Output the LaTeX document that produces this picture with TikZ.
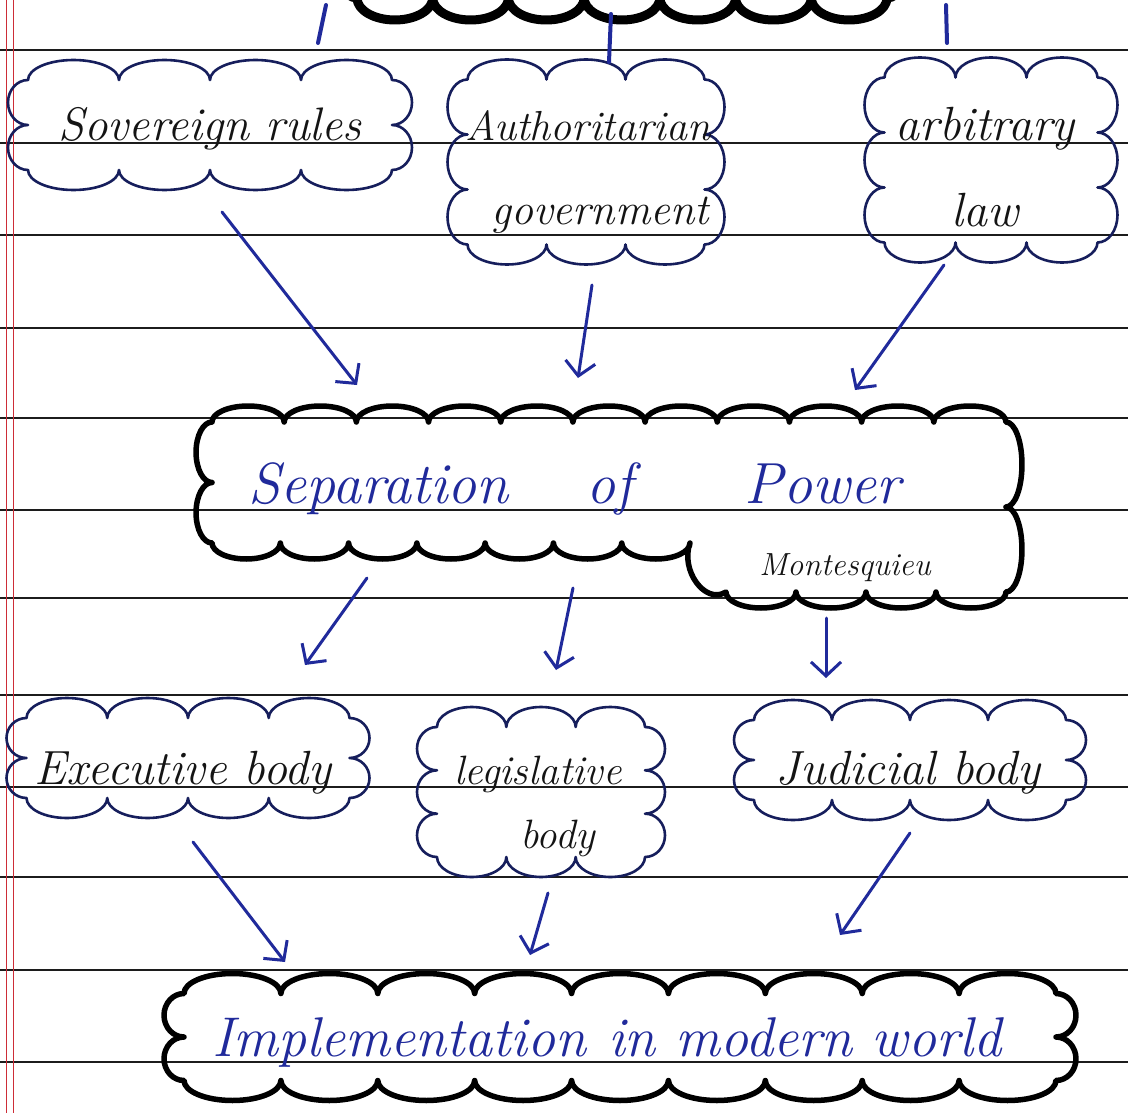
\documentclass[tikz,border=0pt]{standalone}
\usetikzlibrary{arrows.meta}
\definecolor{ink}{RGB}{32,42,155}
\definecolor{navy}{RGB}{22,30,92}
\definecolor{ruleclr}{RGB}{28,28,28}
\definecolor{marginclr}{RGB}{205,45,55}
\definecolor{pen}{RGB}{20,20,20}
% #1 options, #2 cx, #3 cy, #4 half width, #5 half height, #6 bumps per long side, #7 bumps per short side, #8 bump height
\newcommand\scallopcloud[8]{%
  \pgfmathsetmacro\myrx{#4/#6}%
  \pgfmathsetmacro\myry{#5/#7}%
  \draw[#1] (#2-#4,#3-#5)
    \foreach \i in {1,...,#6} { arc[start angle=180,end angle=360,x radius=\myrx,y radius=#8] }
    \foreach \i in {1,...,#7} { arc[start angle=270,end angle=450,x radius=#8,y radius=\myry] }
    \foreach \i in {1,...,#6} { arc[start angle=0,end angle=180,x radius=\myrx,y radius=#8] }
    \foreach \i in {1,...,#7} { arc[start angle=90,end angle=270,x radius=#8,y radius=\myry] }
    -- cycle;
}
\begin{document}
\begin{tikzpicture}[x=1pt,y=-1pt,
  sline/.style={draw=navy, line width=2.6pt, line join=round},
  bline/.style={draw=black, line width=5.5pt, line join=round},
  hand/.style={font=\itshape\fontsize{44}{82}\selectfont, text=pen, inner sep=0pt, anchor=base},
  bluehand/.style={font=\itshape\fontsize{58}{70}\selectfont, text=ink, inner sep=0pt, anchor=base west},
  arr/.style={draw=ink, line width=3pt, line cap=round, line join=round, -{Straight Barb[length=14pt,width=30pt,line width=3pt]}},
  stub/.style={draw=ink, line width=4pt, line cap=round},
  area/.style={inner sep=0pt}
]
\useasboundingbox (0,0) rectangle (1128,1113);
\fill[white] (0,0) rectangle (1128,1113);
% ruled lines
\foreach \yy in {50,143,235,328,418,510,598,695,787,877,970,1062}
  \draw[ruleclr, line width=2.2pt] (0,\yy) -- (1128,\yy);
% margin
\draw[marginclr, line width=1pt] (6,0) -- (6,1113);
\draw[marginclr, line width=1pt] (13,0) -- (13,1113);

% top cloud (mostly off page)
\scallopcloud{bline, line width=9pt}{622}{-42}{265}{40}{7}{1}{22}
\node[area, minimum width=574pt, minimum height=124pt] (topc) at (622,-42) {};

% first row clouds
\scallopcloud{sline}{210}{125}{182}{45}{4}{2}{20}
\node[area, minimum width=404pt, minimum height=130pt] (sov) at (210,125) {};
\node[hand, font=\itshape\fontsize{47}{82}\selectfont] (sovt) at (210,141) {Sovereign rules};

\scallopcloud{sline}{586}{162}{118.5}{82.5}{3}{3}{20}
\node[area, minimum width=277pt, minimum height=205pt] (auth) at (586,162) {};
\node[hand, font=\itshape\fontsize{42}{82}\selectfont] (autht1) at (588,141) {Authoritarian};
\node[hand] (autht2) at (600,224) {government};

\scallopcloud{sline}{991}{160}{106.5}{82.5}{3}{3}{20}
\node[area, minimum width=253pt, minimum height=205pt] (arb) at (991,160) {};
\node[hand, font=\itshape\fontsize{48}{84}\selectfont] (arbt1) at (985,141) {arbitrary};
\node[hand, font=\itshape\fontsize{48}{84}\selectfont] (arbt2) at (985,226) {law};

% stubs from top cloud
\coordinate (s1a) at (326,5); \coordinate (s1b) at (318,43);
\coordinate (s2a) at (611,14); \coordinate (s2b) at (609,62);
\coordinate (s3a) at (946,5); \coordinate (s3b) at (947,43);
\draw[stub] (s1a) -- (s1b);
\draw[stub] (s2a) -- (s2b);
\draw[stub] (s3a) -- (s3b);

% Separation of Power
\draw[bline] (212,422)
   \foreach \i in {1,...,11} { arc[start angle=180,end angle=360,x radius=36.09,y radius=16] }
   \foreach \i in {1,...,2} { arc[start angle=270,end angle=450,x radius=16,y radius=42.5] }
   \foreach \i in {1,...,4} { arc[start angle=0,end angle=180,x radius=35,y radius=16] }
   .. controls (705,605) and (680,570) .. (690,543)
   \foreach \i in {1,...,7} { arc[start angle=0,end angle=180,x radius=34.14,y radius=16] }
   \foreach \i in {1,...,2} { arc[start angle=90,end angle=270,x radius=16,y radius=30.25] }
   -- cycle;
\node[area, minimum width=826pt, minimum height=200pt] (sop) at (609,506) {};
\node[bluehand] (sopt) at (248,503) {Separation\hspace{78pt}of\hspace{112pt}Power};
\node[font=\itshape\fontsize{32}{36}\selectfont, text=pen, inner sep=0pt] (mont) at (845,568) {Montesquieu};

% arrows into SoP
\coordinate (a1s) at (222,212); \coordinate (a1e) at (357,385);
\coordinate (a2s) at (592,285); \coordinate (a2e) at (578,378);
\coordinate (a3s) at (944,265); \coordinate (a3e) at (855,390);
\draw[arr] (a1s) -- (a1e);
\draw[arr] (a2s) -- (a2e);
\draw[arr] (a3s) -- (a3e);

% arrows out of SoP
\coordinate (b1s) at (367,578); \coordinate (b1e) at (305,665);
\coordinate (b2s) at (573,588); \coordinate (b2e) at (556,670);
\coordinate (b3s) at (826,618); \coordinate (b3e) at (826,678);
\draw[arr] (b1s) -- (b1e);
\draw[arr] (b2s) -- (b2e);
\draw[arr] (b3s) -- (b3e);

% bodies
\scallopcloud{sline}{188}{758}{161.5}{40}{4}{2}{20}
\node[area, minimum width=363pt, minimum height=120pt] (exe) at (188,758) {};
\node[hand, font=\itshape\fontsize{48}{82}\selectfont] (exet) at (183,784) {Executive body};

\scallopcloud{sline}{541}{792}{104}{65}{3}{3}{20}
\node[area, minimum width=248pt, minimum height=170pt] (leg) at (541,792) {};
\node[hand, font=\itshape\fontsize{41}{64}\selectfont] (legt1) at (538,784) {legislative};
\node[hand, font=\itshape\fontsize{41}{64}\selectfont] (legt2) at (558,848) {body};

\scallopcloud{sline}{910}{760}{156}{40}{4}{2}{20}
\node[area, minimum width=352pt, minimum height=120pt] (jud) at (910,760) {};
\node[hand, font=\itshape\fontsize{48}{82}\selectfont] (judt) at (908,784) {Judicial body};

% arrows into Implementation
\coordinate (c1s) at (193,842); \coordinate (c1e) at (285,962);
\coordinate (c2s) at (548,893); \coordinate (c2e) at (530,955);
\coordinate (c3s) at (910,833); \coordinate (c3e) at (840,935);
\draw[arr] (c1s) -- (c1e);
\draw[arr] (c2s) -- (c2e);
\draw[arr] (c3s) -- (c3e);

% Implementation
\scallopcloud{bline}{620}{1037}{436}{43.5}{9}{2}{20}
\node[area, minimum width=912pt, minimum height=127pt] (imp) at (620,1037) {};
\node[bluehand, font=\itshape\fontsize{56}{60}\selectfont] (impt) at (212,1056) {Implementation\hspace{22pt}in modern world};
\end{tikzpicture}
\end{document}
